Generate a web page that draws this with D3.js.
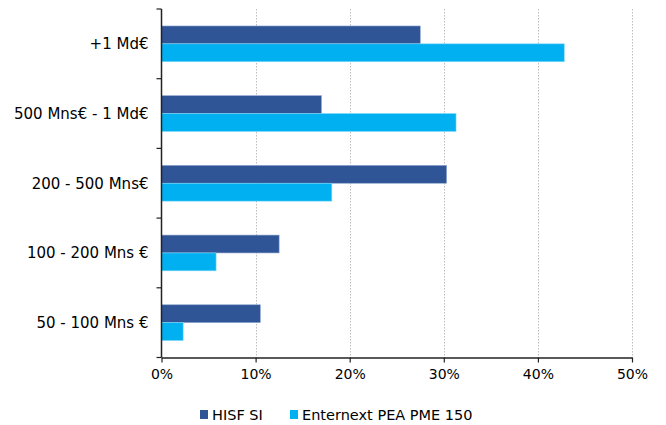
<!DOCTYPE html>
<html><head><meta charset="utf-8">
<script src="https://cdn.jsdelivr.net/npm/d3@7"></script>
<style>
body{margin:0;background:#fff;}
text{font-family:"DejaVu Sans",Verdana,sans-serif;fill:#000;}
</style></head>
<body><svg id="c" width="666" height="425"></svg>
<script>
const categories = ["+1 Md€", "500 Mns€ - 1 Md€", "200 - 500 Mns€", "100 - 200 Mns €", "50 - 100 Mns €"];
const seriesNames = ["HISF SI", "Enternext PEA PME 150"];
const hisf = [27.5, 17.0, 30.3, 12.5, 10.5];
const enternext = [42.8, 31.3, 18.1, 5.8, 2.3];
const xTicks = [0, 10, 20, 30, 40, 50];
const colors = ["#2F5597", "#00B0F0"];

const svg = d3.select("#c");
const m = {l:161.5, r:632, t:9, b:357.5};
const x = d3.scaleLinear().domain([0,50]).range([m.l, m.r]);
const y = d3.scaleBand().domain(categories).range([m.t, m.b]);
const inner = d3.scaleBand().domain([0,1]).range([0, y.bandwidth()]).paddingOuter(0.95).paddingInner(0);

// grid
svg.append("g").selectAll("line").data(xTicks.slice(1)).join("line")
  .attr("x1", d=>Math.round(x(d))+0.5).attr("x2", d=>Math.round(x(d))+0.5)
  .attr("y1", m.t).attr("y2", m.b)
  .attr("stroke", "#bdbdbd").attr("stroke-dasharray", "1.5,1.5").attr("stroke-width",1);

const data = [hisf, enternext];
data.forEach((vals, s) => {
  svg.append("g").selectAll("rect").data(vals).join("rect")
    .attr("x", x(0)).attr("y", (d,i)=>y(categories[i]) + inner(s))
    .attr("width", d=>x(d)-x(0)).attr("height", inner.bandwidth())
    .attr("fill", colors[s])
    .attr("stroke", s===0 ? "#8fa6cf" : "#7fd8f8").attr("stroke-width", 0.6);
});

// x axis
const xa = svg.append("g").attr("transform", `translate(0,${m.b})`)
  .call(d3.axisBottom(x).tickValues(xTicks).tickFormat(d=>d+"%").tickSizeOuter(0).tickSizeInner(5).tickPadding(7));
xa.select(".domain").attr("stroke", "#222").attr("stroke-width", 1.5);
xa.selectAll(".tick line").attr("stroke", "#222").attr("stroke-width", 1.2);
xa.selectAll("text").attr("font-size", 14).attr("fill", "#222").attr("font-family", "DejaVu Sans");

// y axis
const ya = svg.append("g").attr("transform", `translate(${m.l},0)`);
ya.append("line").attr("x1",0).attr("x2",0).attr("y1",m.t).attr("y2",m.b).attr("stroke","#222").attr("stroke-width",1.5);
const bounds = d3.range(categories.length+1).map(i=> m.t + i*y.step());
ya.selectAll("line.t").data(bounds).join("line").attr("class","t")
  .attr("x1",-5).attr("x2",0).attr("y1",d=>d).attr("y2",d=>d).attr("stroke","#222").attr("stroke-width",1.2);
ya.selectAll("text").data(categories).join("text")
  .attr("x", -13).attr("y", d=>y(d)+y.bandwidth()/2).attr("dy","0.35em")
  .attr("text-anchor","end").attr("font-size", 15).attr("fill","#222").text(d=>d);

// legend
const leg = svg.append("g");
const lx = [200, 290];
seriesNames.forEach((n,i)=>{
  leg.append("rect").attr("x", lx[i]).attr("y", 410).attr("width", 8).attr("height", 9).attr("fill", colors[i]);
  leg.append("text").attr("x", lx[i]+12).attr("y", 415).attr("dy","0.35em").attr("font-size",14.5).attr("fill","#222").text(n);
});
</script></body></html>
